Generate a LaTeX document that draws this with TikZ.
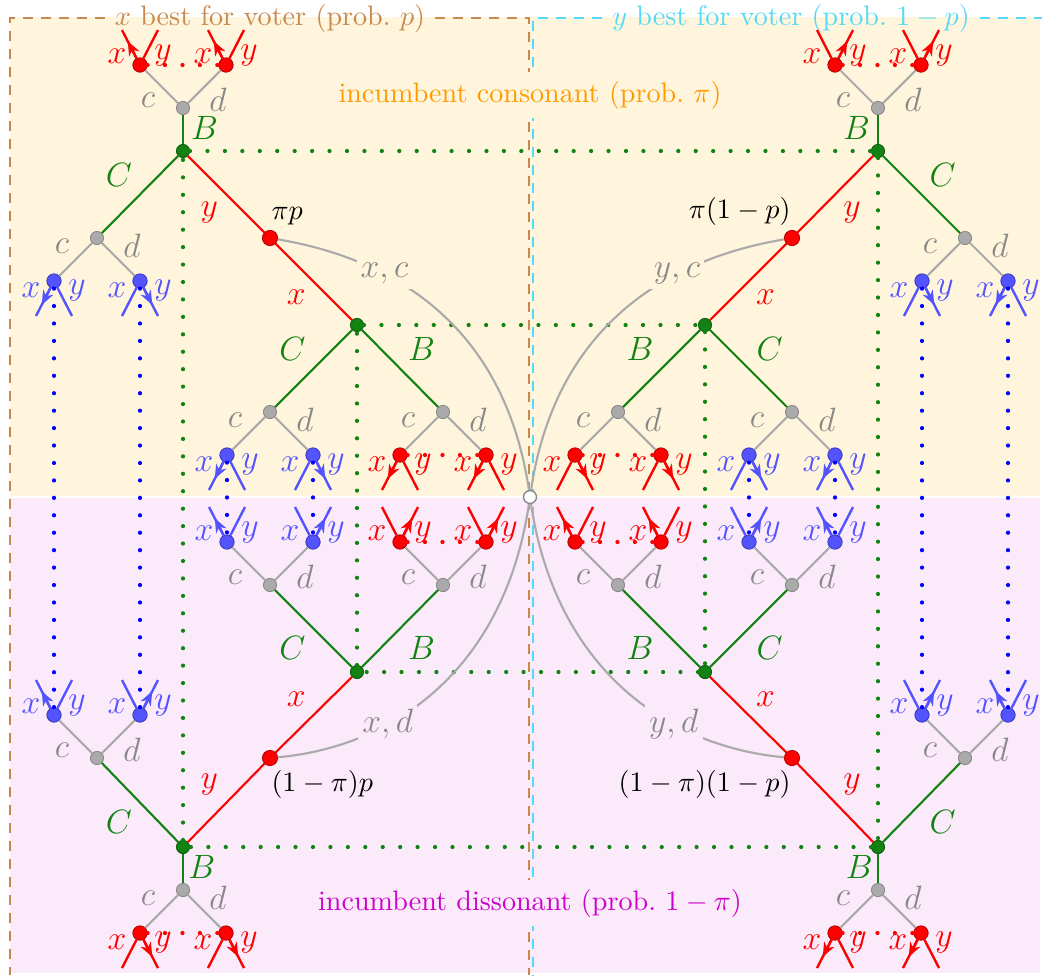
\documentclass[tikz,border=0pt]{standalone}
\usepackage{tikz}
\usetikzlibrary{arrows.meta,positioning,calc}
\definecolor{redc}{HTML}{FF0000}
\definecolor{grnc}{HTML}{128212}
\definecolor{blc}{HTML}{5353FF}
\definecolor{dotb}{HTML}{0000FF}
\definecolor{gryl}{HTML}{AAAAAA}
\definecolor{gryt}{HTML}{888888}
\definecolor{yelbg}{HTML}{FFF5DC}
\definecolor{pnkbg}{HTML}{FBEAFA}
\definecolor{brnc}{HTML}{C68A50}
\definecolor{cync}{HTML}{55D9F7}
\definecolor{orgc}{HTML}{FF9A00}
\definecolor{magc}{HTML}{CC00CC}
\tikzset{
  ldot/.style={circle, fill=#1, draw=#1!70!black, line width=0.3pt, inner sep=0pt, minimum size=5.1pt},
  kdot/.style={circle, fill=gryl, draw=gryl!80!black, line width=0.3pt, inner sep=0pt, minimum size=4.7pt},
  gdot/.style={circle, fill=grnc, draw=grnc!70!black, line width=0.3pt, inner sep=0pt, minimum size=4.7pt},
  odot/.style={circle, fill=white, draw=gryl!80!black, line width=0.5pt, inner sep=0pt, minimum size=4.6pt},
  redge/.style={redc, line width=0.75pt},
  gedge/.style={grnc, line width=0.75pt},
  kedge/.style={gryl, line width=0.75pt},
  cur/.style={gryl, line width=0.75pt},
  lfline/.style={#1, line width=0.85pt},
  choice/.style={#1, line width=0.85pt, -{Stealth[length=5pt,width=4pt,inset=1.5pt]}},
  infoset/.style={#1, line width=1.5pt, line cap=round, dash pattern=on 0pt off 6.2pt},
  boxline/.style={#1, line width=0.9pt, dash pattern=on 3.6pt off 2.8pt},
  el/.style={text=#1, inner sep=2.5pt, font=\large},
  cl/.style={text=gryt, fill=#1, inner sep=1.5pt, font=\large},
}
% leaf: name, x, y, colour, dy of the two actions, chosen action
\newcommand{\leaf}[6]{%
  \node[ldot=#4] (#1) at (#2,#3) {};
  \coordinate (#1x) at ($(#1)+(-18,#5)$);
  \coordinate (#1y) at ($(#1)+(18,#5)$);
  \draw[lfline=#4] (#1) -- (#1x);
  \draw[lfline=#4] (#1) -- (#1y);
  \draw[choice=#4] (#1) -- ($(#1)!0.68!(#1#6)$);
  \node[el=#4, inner sep=0pt] (#1lx) at ($(#1)+(-23,{0.26*(#5)})$) {$x$};
  \node[el=#4, inner sep=0pt] (#1ly) at ($(#1)+(23,{0.26*(#5)})$) {$y$};}
% chance node c/d: name, x, y, colour of leaves, 1 below / -1 above, choice after c, choice after d
\newcommand{\cdpair}[7]{%
  \node[kdot] (#1) at (#2,#3) {};
  \leaf{#1c}{#2-43}{#3+43*#5}{#4}{35*#5}{#6}
  \leaf{#1d}{#2+43}{#3+43*#5}{#4}{35*#5}{#7}
  \draw[kedge] (#1) -- (#1c);
  \draw[kedge] (#1) -- (#1d);
  \node[el=gryt, inner sep=0pt] (#1lc) at ($(#1)+(-35,{8*(#5)})$) {$c$};
  \node[el=gryt, inner sep=0pt] (#1ld) at ($(#1)+(35,{8*(#5)})$) {$d$};}

\begin{document}
\begin{tikzpicture}[x=0.0125cm, y=-0.0125cm]
  \useasboundingbox (0,0) rectangle (1042,975);
  \fill[yelbg] (10,17) rectangle (1040,496);
  \fill[pnkbg] (10,498) rectangle (1040,973);
  % voter types
  \node[text=brnc] (tX) at (270,18) {$x$ best for voter (prob.~$p$)};
  \node[text=cync] (tY) at (791,18) {$y$ best for voter (prob.~$1-p$)};
  \draw[boxline=brnc] (tX.west) -- (10,18) -- (10,975);
  \draw[boxline=brnc] (tX.east) -- (529,18) -- (529,975);
  \draw[boxline=cync] (tY.west) -- (533,18) -- (533,975);
  \draw[boxline=cync] (tY.east) -- (1042,18);
  \node[text=orgc, fill=yelbg] (tC) at (530,95) {incumbent consonant (prob.~$\pi$)};
  \node[text=magc, fill=pnkbg] (tD) at (530,903) {incumbent dissonant (prob.~$1-\pi$)};

  \node[odot] (O) at (530,497) {};
  % top left
  \node[gdot] (gTLo) at (183,151) {};
  \node[gdot] (gTLi) at (357,325) {};
  \node[ldot=redc, minimum size=5.4pt] (pTL) at (270,238) {};
  \cdpair{kTLoB}{183}{108}{redc}{-1}{x}{x}
  \cdpair{kTLoC}{97}{238}{blc}{1}{x}{y}
  \cdpair{kTLiC}{270}{412}{blc}{1}{x}{y}
  \cdpair{kTLiB}{443}{412}{redc}{1}{x}{x}
  \draw[gedge] (gTLo) -- node[el=grnc, right, pos=0.55] {$B$} (kTLoB);
  \draw[gedge] (gTLo) -- node[el=grnc, above left] {$C$} (kTLoC);
  \draw[gedge] (gTLi) -- node[el=grnc, above left] {$C$} (kTLiC);
  \draw[gedge] (gTLi) -- node[el=grnc, above right] {$B$} (kTLiB);
  \draw[redge] (pTL) -- node[el=redc, below left] {$y$} (gTLo);
  \draw[redge] (pTL) -- node[el=redc, below left] {$x$} (gTLi);
  % top right
  \node[gdot] (gTRo) at (878,151) {};
  \node[gdot] (gTRi) at (705,325) {};
  \node[ldot=redc, minimum size=5.4pt] (pTR) at (792,238) {};
  \cdpair{kTRoB}{878}{108}{redc}{-1}{y}{y}
  \cdpair{kTRoC}{965}{238}{blc}{1}{y}{x}
  \cdpair{kTRiB}{618}{412}{redc}{1}{y}{y}
  \cdpair{kTRiC}{792}{412}{blc}{1}{y}{x}
  \draw[gedge] (gTRo) -- node[el=grnc, left, pos=0.55] {$B$} (kTRoB);
  \draw[gedge] (gTRo) -- node[el=grnc, above right] {$C$} (kTRoC);
  \draw[gedge] (gTRi) -- node[el=grnc, above left] {$B$} (kTRiB);
  \draw[gedge] (gTRi) -- node[el=grnc, above right] {$C$} (kTRiC);
  \draw[redge] (pTR) -- node[el=redc, below right] {$y$} (gTRo);
  \draw[redge] (pTR) -- node[el=redc, below right] {$x$} (gTRi);
  % bottom left
  \node[gdot] (gBLo) at (183,847) {};
  \node[gdot] (gBLi) at (357,672) {};
  \node[ldot=redc, minimum size=5.4pt] (pBL) at (270,758) {};
  \cdpair{kBLoB}{183}{890}{redc}{1}{y}{y}
  \cdpair{kBLoC}{97}{758}{blc}{-1}{x}{y}
  \cdpair{kBLiC}{270}{585}{blc}{-1}{x}{y}
  \cdpair{kBLiB}{443}{585}{redc}{-1}{y}{y}
  \draw[gedge] (gBLo) -- node[el=grnc, right, inner sep=1.5pt, pos=0.45] {$B$} (kBLoB);
  \draw[gedge] (gBLo) -- node[el=grnc, below left] {$C$} (kBLoC);
  \draw[gedge] (gBLi) -- node[el=grnc, below left] {$C$} (kBLiC);
  \draw[gedge] (gBLi) -- node[el=grnc, below right] {$B$} (kBLiB);
  \draw[redge] (pBL) -- node[el=redc, above left] {$y$} (gBLo);
  \draw[redge] (pBL) -- node[el=redc, above left] {$x$} (gBLi);
  % bottom right
  \node[gdot] (gBRo) at (878,847) {};
  \node[gdot] (gBRi) at (705,672) {};
  \node[ldot=redc, minimum size=5.4pt] (pBR) at (792,758) {};
  \cdpair{kBRoB}{878}{890}{redc}{1}{x}{x}
  \cdpair{kBRoC}{965}{758}{blc}{-1}{y}{x}
  \cdpair{kBRiB}{618}{585}{redc}{-1}{x}{x}
  \cdpair{kBRiC}{792}{585}{blc}{-1}{y}{x}
  \draw[gedge] (gBRo) -- node[el=grnc, left, inner sep=1.5pt, pos=0.45] {$B$} (kBRoB);
  \draw[gedge] (gBRo) -- node[el=grnc, below right] {$C$} (kBRoC);
  \draw[gedge] (gBRi) -- node[el=grnc, below left] {$B$} (kBRiB);
  \draw[gedge] (gBRi) -- node[el=grnc, below right] {$C$} (kBRiC);
  \draw[redge] (pBR) -- node[el=redc, above right] {$y$} (gBRo);
  \draw[redge] (pBR) -- node[el=redc, above right] {$x$} (gBRi);

  % information sets
  \draw[infoset=grnc] (gTLo) -- (gTRo) -- (gBRo) -- (gBLo) -- (gTLo);
  \draw[infoset=grnc] (gTLi) -- (gTRi) -- (gBRi) -- (gBLi) -- (gTLi);
  \foreach \q in {kTLoB,kTLiB,kTRoB,kTRiB,kBLoB,kBLiB,kBRoB,kBRiB}
    \draw[infoset=redc] (\q c) -- (\q d);
  \foreach \up/\dn in {kTLoC/kBLoC,kTLiC/kBLiC,kTRoC/kBRoC,kTRiC/kBRiC}{
    \draw[infoset=dotb] (\up c) -- (\dn c);
    \draw[infoset=dotb] (\up d) -- (\dn d);}

  % nature's moves
  \draw[cur] (O) .. controls +(-25,-167) and +(130,22) .. node[pos=0.69, cl=yelbg] (lxc) {$x,c$} (pTL);
  \draw[cur] (O) .. controls +(25,-167) and +(-130,22) .. node[pos=0.69, cl=yelbg] (lyc) {$y,c$} (pTR);
  \draw[cur] (O) .. controls +(-25,167) and +(130,-12) .. node[pos=0.68, cl=pnkbg] (lxd) {$x,d$} (pBL);
  \draw[cur] (O) .. controls +(25,167) and +(-130,-12) .. node[pos=0.68, cl=pnkbg] (lyd) {$y,d$} (pBR);
  \node[above right=-1pt and -5pt of pTL] (lTL) {$\pi p$};
  \node[above left=-1pt and -5pt of pTR] (lTR) {$\pi(1-p)$};
  \node[below right=-1pt and -5pt of pBL] (lBL) {$(1-\pi)p$};
  \node[below left=-1pt and -5pt of pBR] (lBR) {$(1-\pi)(1-p)$};
\end{tikzpicture}
\end{document}
